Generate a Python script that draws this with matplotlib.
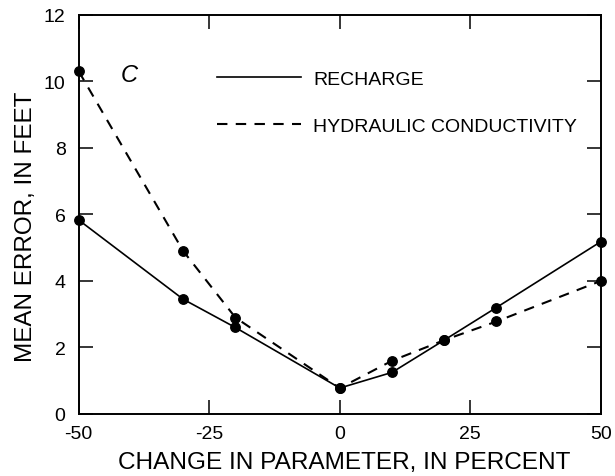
import matplotlib
matplotlib.use("Agg")
import matplotlib.pyplot as plt

plt.rcParams['font.family'] = ['Liberation Sans', 'DejaVu Sans']

# percent change in parameter
change = [-50, -30, -20, 0, 10, 20, 30, 50]
# mean error, feet
recharge = [5.83, 3.45, 2.6, 0.78, 1.25, 2.22, 3.2, 5.18]
conductivity = [10.3, 4.9, 2.9, 0.78, 1.6, 2.22, 2.78, 4.0]

xticks = [-50, -25, 0, 25, 50]
yticks = [0, 2, 4, 6, 8, 10, 12]

fig = plt.figure(figsize=(6.15, 4.77), dpi=100)
ax = fig.add_axes([0.128, 0.130, 0.849, 0.837])

ax.plot(change, recharge, color='black', linewidth=1.2, marker='o',
        markersize=6.8, label="RECHARGE", clip_on=False)
ax.plot(change, conductivity, color='black', linewidth=1.5, dashes=(5, 4),
        marker='o', markersize=6.8, label="HYDRAULIC CONDUCTIVITY", clip_on=False)

ax.set_xlim(-50, 50)
ax.set_ylim(0, 12)
ax.set_xticks(xticks)
ax.set_xticklabels([str(t) for t in xticks])
ax.set_yticks(yticks)
ax.tick_params(direction='in', length=10, width=1.1, top=True, right=True,
               labelsize=14)
ax.tick_params(axis='x', pad=8)
ax.tick_params(axis='y', pad=9.5)
for s in ax.spines.values():
    s.set_linewidth(1.4)

ax.set_xlabel("CHANGE IN PARAMETER, IN PERCENT", fontsize=17.6)
ax.set_ylabel("MEAN ERROR, IN FEET", fontsize=17.5)
ax.xaxis.set_label_coords(0.508, -0.093)
ax.yaxis.set_label_coords(-0.08, 0.471)
ax.xaxis.label.set_va('top')

ax.text(-40.3, 10.2, "C", fontsize=17, style='italic', ha='center', va='center')

leg = ax.legend(loc='upper left', bbox_to_anchor=(0.249, 0.88), frameon=False,
                fontsize=14, handlelength=4.35, handletextpad=0.62,
                labelspacing=1.5, borderaxespad=0)
for h in leg.get_lines():
    h.set_marker('')

fig.savefig("out.png", dpi=100)
